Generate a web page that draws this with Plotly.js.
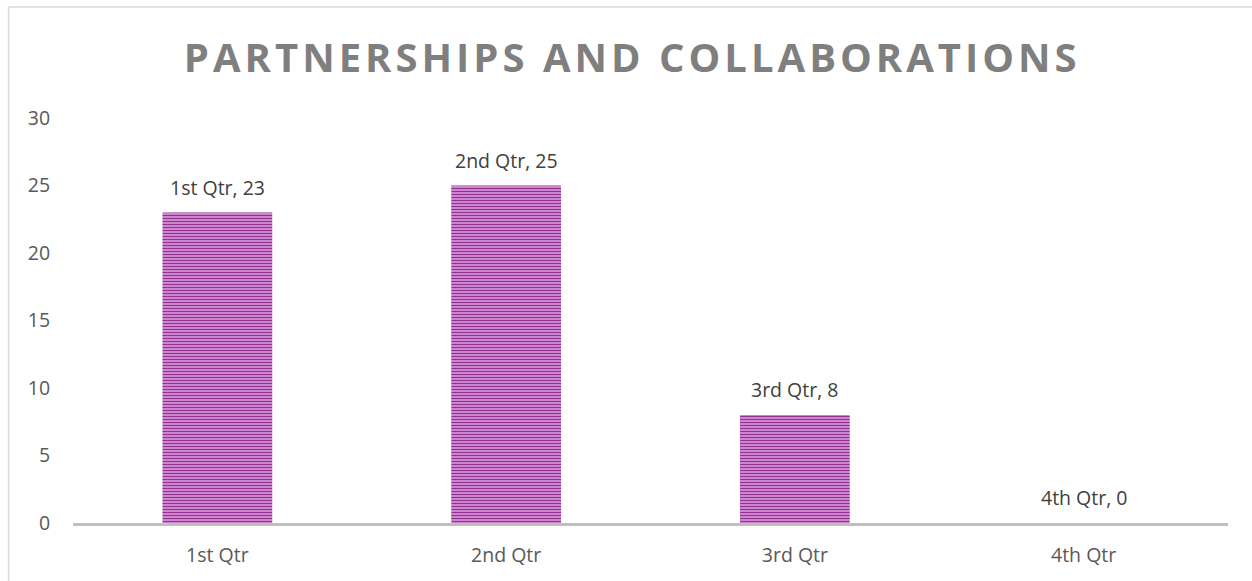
<!DOCTYPE html>
<html>
<head>
<meta charset="utf-8">
<script src="https://cdn.plot.ly/plotly-3.0.1.min.js"></script>
<style>
html,body{margin:0;padding:0;background:#fff;}
#chart{width:1252px;height:581px;}
#chart .gtitle{letter-spacing:4px;}
</style>
</head>
<body>
<div id="chart"></div>
<script>
const categories = ["1st Qtr", "2nd Qtr", "3rd Qtr", "4th Qtr"];
const values = [23, 25, 8, 0];
const yTicks = [0, 5, 10, 15, 20, 25, 30];
const chartTitle = "PARTNERSHIPS AND COLLABORATIONS";

const FONT = "Open Sans, Noto Sans, sans-serif";

const trace = {
  type: "bar",
  x: categories,
  y: values,
  marker: {
    color: "#e6b0e6",
    line: {width: 0},
    pattern: {shape: "-", fgcolor: "#962e96", bgcolor: "#e6b0e6", size: 3, solidity: 0.55, fillmode: "replace"}
  },
  hoverinfo: "skip"
};

const labelAnnotations = categories.map((c, i) => ({
  x: c, y: values[i], xref: "x", yref: "y",
  text: c + ", " + values[i],
  showarrow: false,
  yanchor: "bottom",
  yshift: 10,
  font: {family: FONT, size: 19.5, color: "#404040"}
}));

const layout = {
  width: 1252,
  height: 581,
  margin: {l: 72.5, r: 23.5, t: 118, b: 58, pad: 0},
  paper_bgcolor: "#ffffff",
  plot_bgcolor: "#ffffff",
  showlegend: false,
  bargap: 0.62,
  title: {
    text: chartTitle,
    font: {family: FONT, size: 40, color: "#7f7f7f", weight: 700},
    x: 0.505, xref: "container", xanchor: "center",
    y: 0.9, yref: "container", yanchor: "middle"
  },
  xaxis: {
    type: "category",
    showline: true,
    linecolor: "#bfbfbf",
    linewidth: 2.5,
    showgrid: false,
    zeroline: false,
    ticks: "outside",
    ticklen: 13,
    tickcolor: "rgba(0,0,0,0)",
    tickfont: {family: FONT, size: 19.5, color: "#595959"}
  },
  yaxis: {
    range: [0, 30],
    tickvals: yTicks,
    showline: false,
    showgrid: false,
    zeroline: false,
    ticks: "outside",
    ticklen: 18,
    tickcolor: "rgba(0,0,0,0)",
    tickfont: {family: FONT, size: 19.5, color: "#595959"}
  },
  annotations: labelAnnotations,
  shapes: [{
    type: "rect",
    xref: "paper", yref: "paper",
    x0: (8 - 72.5) / 1156, x1: 1.2,
    y0: -0.5, y1: (523 - 7) / 405,
    line: {color: "#d9d9d9", width: 1.5},
    fillcolor: "rgba(0,0,0,0)",
    layer: "below"
  }]
};

Plotly.newPlot("chart", [trace], layout, {displayModeBar: false, staticPlot: true});
</script>
</body>
</html>
